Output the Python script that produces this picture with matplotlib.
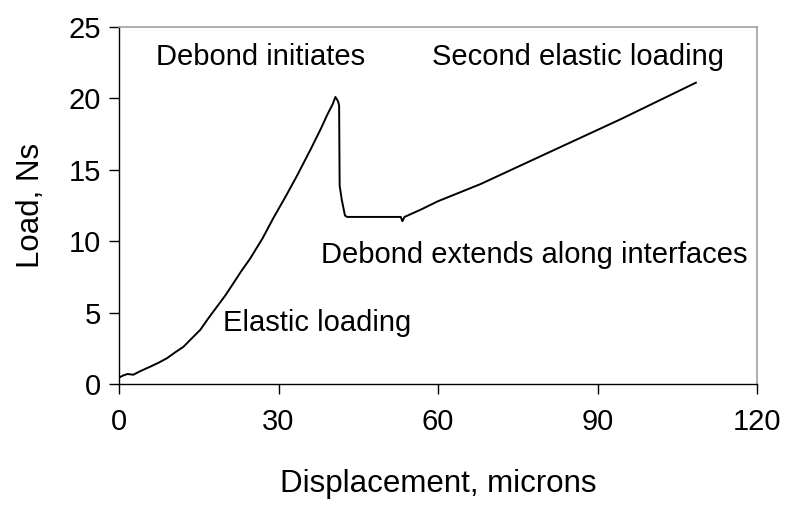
import matplotlib
matplotlib.use("Agg")
import matplotlib.pyplot as plt

plt.rcParams['font.family'] = ['Liberation Sans', 'DejaVu Sans']

# Data
displacement = [0.0, 0.8, 1.6, 2.7, 4.0, 5.8, 7.5, 9.0, 10.5, 12.1, 13.7, 15.3,
                16.8, 18.4, 20.0, 21.5, 23.0, 24.7, 27.0, 29.0, 31.3, 33.5,
                36.0, 38.0, 39.1, 40.2, 40.7, 41.2, 41.4, 41.5, 41.9, 42.5,
                42.9, 48.0, 53.0, 53.3, 53.7, 56.7, 60.0, 68.0, 79.3, 94.4, 108.5]
load = [0.45, 0.6, 0.7, 0.65, 0.9, 1.2, 1.5, 1.8, 2.2, 2.6, 3.2, 3.8,
        4.6, 5.4, 6.2, 7.05, 7.9, 8.8, 10.2, 11.6, 13.1, 14.6,
        16.4, 17.9, 18.8, 19.6, 20.1, 19.8, 19.5, 13.9, 12.9, 11.8,
        11.7, 11.7, 11.7, 11.4, 11.7, 12.2, 12.8, 14.0, 15.95, 18.55, 21.1]

x_ticks = [0, 30, 60, 90, 120]
y_ticks = [0, 5, 10, 15, 20, 25]

annotations = [
    ("Debond initiates", 26.7, 22.9),
    ("Second elastic loading", 86.3, 22.9),
    ("Debond extends along interfaces", 78.1, 9.0),
    ("Elastic loading", 37.3, 4.3),
]

FS = 21
LFS = 22.5

fig = plt.figure(figsize=(7.88, 5.05), dpi=100)
ax = fig.add_axes([119/788, 1 - 384/505, (757 - 119)/788, (384 - 27)/505])

ax.plot(displacement, load, color='black', linewidth=1.4)

ax.set_xlim(0, 120)
ax.set_ylim(0, 25)
ax.set_xticks(x_ticks)
ax.set_yticks(y_ticks)
ax.tick_params(axis='both', direction='out', length=7, width=1.0,
               labelsize=FS, color='black')
ax.tick_params(axis='x', pad=10)
ax.tick_params(axis='y', pad=6)

for side in ['left', 'bottom']:
    ax.spines[side].set_color('black')
    ax.spines[side].set_linewidth(1.0)
for side in ['top', 'right']:
    ax.spines[side].set_color('#a0a0a0')
    ax.spines[side].set_linewidth(1.2)

ax.set_xlabel("Displacement, microns", fontsize=LFS, labelpad=24)
ax.set_ylabel("Load, Ns", fontsize=LFS, labelpad=16)

for text, x, y in annotations:
    ax.text(x, y, text, fontsize=FS, ha='center', va='center')

fig.savefig("out.png", dpi=100)
